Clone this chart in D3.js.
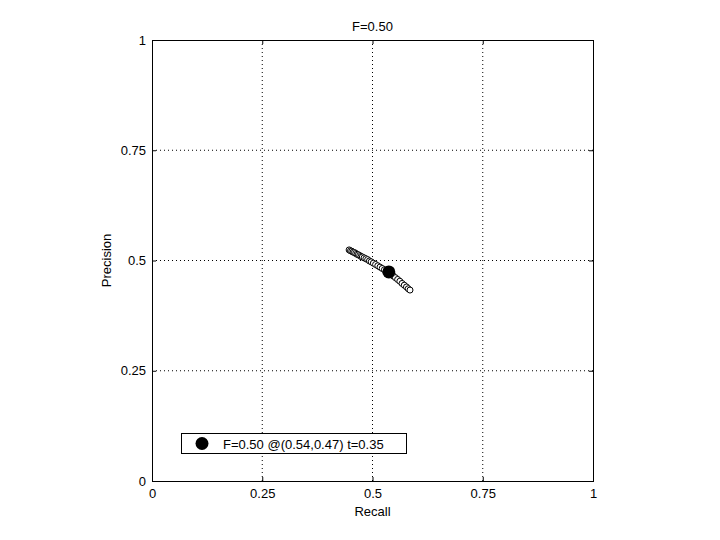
<!DOCTYPE html>
<html><head><meta charset="utf-8">
<script src="https://cdn.jsdelivr.net/npm/d3@7"></script>
<style>body{margin:0;background:#fff}svg{display:block}text{font-family:"Liberation Sans",Arial,sans-serif;fill:#000}</style>
</head><body><svg id="c" width="720" height="540"></svg>
<script>
const recall = [0.447,0.450,0.453,0.456,0.459,0.462,0.465,0.468,0.471,0.474,0.477,0.481,0.485,0.489,0.493,0.497,0.502,0.507,0.512,0.517,0.522,0.527,0.532,0.537,0.542,0.547,0.552,0.557,0.562,0.567,0.572,0.577,0.581,0.585];
const precision = [0.524,0.522,0.521,0.519,0.518,0.516,0.514,0.513,0.511,0.509,0.508,0.506,0.504,0.502,0.499,0.497,0.494,0.491,0.488,0.485,0.482,0.479,0.476,0.473,0.469,0.465,0.461,0.457,0.453,0.448,0.444,0.440,0.436,0.433];
const best = {recall:0.537, precision:0.474};
const tickVals = [0,0.25,0.5,0.75,1];
const tickLabels = ["0","0.25","0.5","0.75","1"];
const titleText = "F=0.50";
const legendText = "F=0.50 @(0.54,0.47) t=0.35";

const svg = d3.select("#c");
const L=152, R=593, T=40, B=481;
const FS = 13;
const x = d3.scaleLinear().domain([0,1]).range([L,R]);
const y = d3.scaleLinear().domain([0,1]).range([B,T]);

// grid
const g = svg.append("g");
tickVals.slice(1,-1).forEach(v=>{
  g.append("line").attr("x1",x(v)).attr("x2",x(v)).attr("y1",T).attr("y2",B)
   .attr("stroke","#000").attr("stroke-width",1).attr("stroke-dasharray","1,3");
  g.append("line").attr("x1",L).attr("x2",R).attr("y1",y(v)).attr("y2",y(v))
   .attr("stroke","#000").attr("stroke-width",1).attr("stroke-dasharray","1,3");
});

// axes
const fmt = (d,i)=>tickLabels[i];
svg.append("g").attr("transform",`translate(0,${B})`)
  .call(d3.axisBottom(x).tickValues(tickVals).tickFormat(fmt).tickSizeInner(-4).tickSizeOuter(0).tickPadding(8))
  .call(s=>{s.select(".domain").remove();s.selectAll("text").attr("font-size",FS).attr("font-family","Liberation Sans, Arial");});
svg.append("g").attr("transform",`translate(${L},0)`)
  .call(d3.axisLeft(y).tickValues(tickVals).tickFormat(fmt).tickSizeInner(-4).tickSizeOuter(0).tickPadding(6))
  .call(s=>{s.select(".domain").remove();s.selectAll("text").attr("font-size",FS).attr("font-family","Liberation Sans, Arial");});
svg.append("g").attr("transform",`translate(0,${T})`)
  .call(d3.axisTop(x).tickValues(tickVals).tickFormat("").tickSizeInner(-4).tickSizeOuter(0))
  .call(s=>s.select(".domain").remove());
svg.append("g").attr("transform",`translate(${R},0)`)
  .call(d3.axisRight(y).tickValues(tickVals).tickFormat("").tickSizeInner(-4).tickSizeOuter(0))
  .call(s=>s.select(".domain").remove());
svg.append("rect").attr("x",L+0.5).attr("y",T+0.5).attr("width",R-L).attr("height",B-T)
  .attr("fill","none").attr("stroke","#000").attr("stroke-width",1);

// data
svg.append("g").selectAll("circle").data(recall).join("circle")
  .attr("cx",(d)=>x(d)).attr("cy",(d,i)=>y(precision[i])).attr("r",3)
  .attr("fill","#fff").attr("stroke","#000").attr("stroke-width",1);
svg.append("circle").attr("cx",x(best.recall)).attr("cy",y(best.precision)).attr("r",6.5).attr("fill","#000");

// labels
svg.append("text").attr("x",(L+R)/2).attr("y",31).attr("text-anchor","middle").attr("font-size",FS).text(titleText);
svg.append("text").attr("x",(L+R)/2).attr("y",516).attr("text-anchor","middle").attr("font-size",FS).text("Recall");
svg.append("text").attr("transform",`translate(111,${(T+B)/2}) rotate(-90)`).attr("text-anchor","middle").attr("font-size",FS).text("Precision");

// legend
const lg = svg.append("g");
lg.append("rect").attr("x",181.5).attr("y",433.5).attr("width",225).attr("height",20).attr("fill","#fff").attr("stroke","#000");
lg.append("circle").attr("cx",202).attr("cy",443.5).attr("r",6.5).attr("fill","#000");
lg.append("text").attr("x",223).attr("y",448.5).attr("font-size",FS).text(legendText);
</script></body></html>
